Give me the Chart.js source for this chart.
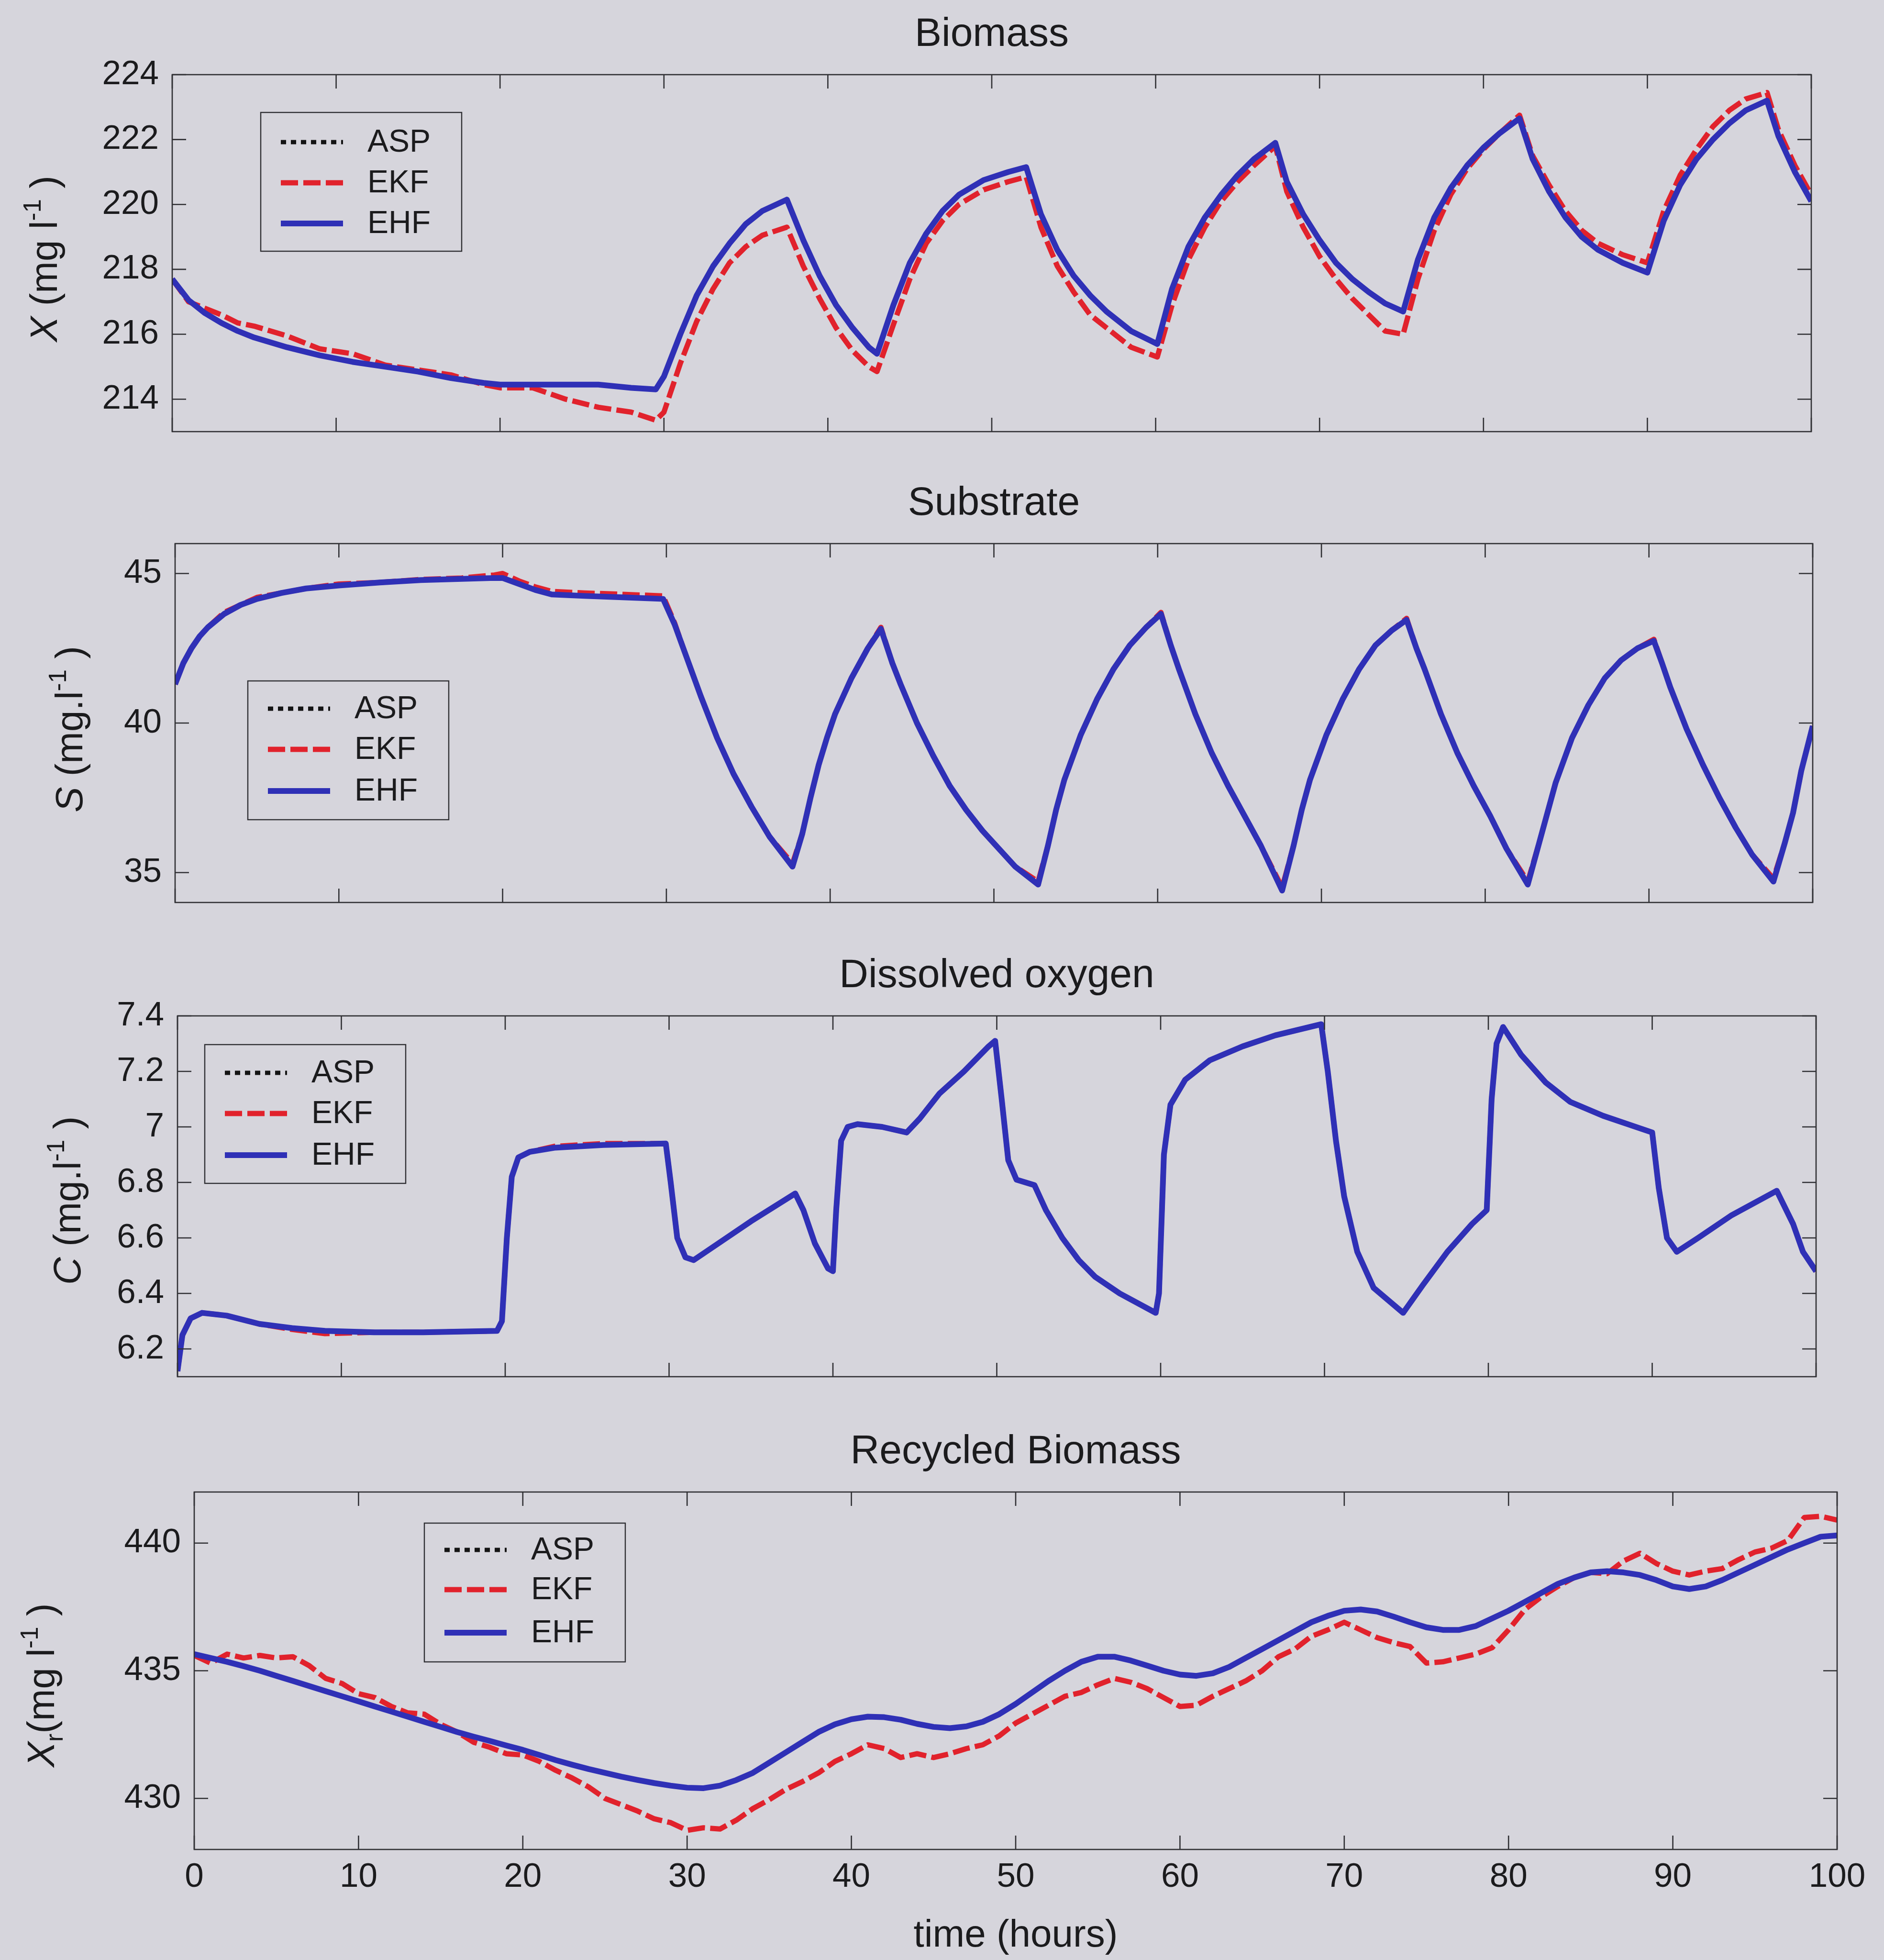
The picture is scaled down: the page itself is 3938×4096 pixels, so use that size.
<!DOCTYPE html>
<html><head><meta charset="utf-8">
<script src="https://cdn.jsdelivr.net/npm/chart.js@4.4.1/dist/chart.umd.min.js"></script>
<style>
html,body{margin:0;padding:0;background:#d6d5dc;width:3938px;height:4096px;overflow:hidden;}
canvas{position:absolute;left:0;display:block;}
</style></head><body>
<canvas id="c1"></canvas><canvas id="c2"></canvas><canvas id="c3"></canvas><canvas id="c4"></canvas>
<script>
// ---------------- DATA ----------------
const hours = [0,10,20,30,40,50,60,70,80,90,100];
const hourLabels = ['0','10','20','30','40','50','60','70','80','90','100'];
const seriesNames = ['ASP','EKF','EHF'];

// Biomass X (mg l-1)
const bioT   = [0,1,2,3,4,5,7,9,11,13,15,17,19,20,22,24,26,28,29.5,30,31,32,33,34,35,36,37.5,38.5,39.5,40.5,41.5,42.5,43,44,45,46,47,48,49.5,51,52.1,53,54,55,56,57,58.5,60.1,61,62,63,64,65,66,67.3,68,69,70,71,72,73,74,75.1,76,77,78,79,80,81,82.2,83,84,85,86,87,88.5,90,91,92,93,94,95,96,97.3,98,99,100];
const bioASP = [217.7,217.05,216.65,216.35,216.1,215.9,215.6,215.35,215.15,215.0,214.85,214.65,214.5,214.45,214.45,214.45,214.45,214.35,214.3,214.7,216.0,217.2,218.1,218.8,219.4,219.8,220.15,218.9,217.8,216.9,216.2,215.6,215.4,216.9,218.2,219.1,219.8,220.3,220.75,221.0,221.15,219.7,218.6,217.8,217.2,216.7,216.1,215.7,217.4,218.7,219.6,220.3,220.9,221.4,221.9,220.7,219.7,218.9,218.2,217.7,217.3,216.95,216.7,218.3,219.6,220.5,221.2,221.75,222.2,222.65,221.4,220.4,219.6,219.0,218.6,218.2,217.9,219.5,220.6,221.4,222.0,222.5,222.9,223.2,222.1,221.0,220.1];
const bioEKF = [217.7,217.0,216.8,216.6,216.35,216.25,215.95,215.55,215.4,215.05,214.9,214.75,214.45,214.35,214.35,214.0,213.75,213.6,213.35,213.6,215.1,216.4,217.4,218.2,218.7,219.05,219.3,218.1,217.1,216.2,215.5,215.0,214.85,216.3,217.7,218.8,219.5,220.0,220.45,220.7,220.85,219.3,218.1,217.3,216.6,216.2,215.6,215.3,216.9,218.3,219.3,220.1,220.7,221.2,221.8,220.4,219.3,218.4,217.7,217.1,216.6,216.1,216.0,217.7,219.2,220.3,221.1,221.7,222.2,222.75,221.5,220.6,219.8,219.2,218.8,218.45,218.2,219.8,220.9,221.7,222.4,222.9,223.25,223.45,222.3,221.2,220.3];
const bioEHF = [217.7,217.05,216.65,216.35,216.1,215.9,215.6,215.35,215.15,215.0,214.85,214.65,214.5,214.45,214.45,214.45,214.45,214.35,214.3,214.7,216.0,217.2,218.1,218.8,219.4,219.8,220.15,218.9,217.8,216.9,216.2,215.6,215.4,216.9,218.2,219.1,219.8,220.3,220.75,221.0,221.15,219.7,218.6,217.8,217.2,216.7,216.1,215.7,217.4,218.7,219.6,220.3,220.9,221.4,221.9,220.7,219.7,218.9,218.2,217.7,217.3,216.95,216.7,218.3,219.6,220.5,221.2,221.75,222.2,222.65,221.4,220.4,219.6,219.0,218.6,218.2,217.9,219.5,220.6,221.4,222.0,222.5,222.9,223.2,222.1,221.0,220.1];
const bioTicks = [214,216,218,220,222,224];
const bioTickLabels = ['214','216','218','220','222','224'];

// Substrate S (mg.l-1)
const subT   = [0,0.5,1,1.5,2,3,4,5,6.5,8,10,12.5,15,17.5,19.5,20,21,22,23,25,27.5,29.8,30.5,31.1,32.1,33.1,34.1,35.2,36.3,37.7,38.3,38.8,39.3,39.8,40.3,41.3,42.3,43.1,43.8,44.3,45.3,46.3,47.3,48.3,49.3,50.3,51.3,52.7,53.3,53.8,54.3,55.3,56.3,57.3,58.3,59.3,60.2,60.8,61.3,62.3,63.3,64.3,65.3,66.3,67.6,68.3,68.8,69.3,70.3,71.3,72.3,73.3,74.3,75.2,75.8,76.3,77.3,78.3,79.3,80.3,81.3,82.6,83.3,83.8,84.3,85.3,86.3,87.3,88.3,89.3,90.3,90.8,91.3,92.3,93.3,94.3,95.3,96.3,97.6,98.3,98.8,99.3,100];
const subASP = [41.3,42.0,42.5,42.9,43.2,43.65,43.95,44.15,44.35,44.5,44.6,44.7,44.78,44.82,44.85,44.85,44.65,44.45,44.3,44.25,44.2,44.15,43.3,42.4,40.9,39.5,38.3,37.2,36.2,35.2,36.3,37.5,38.6,39.5,40.3,41.5,42.5,43.15,42.0,41.3,40.0,38.9,37.9,37.1,36.4,35.8,35.2,34.6,35.9,37.1,38.1,39.6,40.8,41.8,42.6,43.2,43.65,42.6,41.8,40.3,39.0,37.9,36.9,35.9,34.4,35.9,37.1,38.1,39.6,40.8,41.8,42.6,43.1,43.45,42.5,41.8,40.3,39.0,37.9,36.9,35.8,34.6,36.0,37.0,38.0,39.5,40.6,41.5,42.1,42.5,42.75,42.0,41.2,39.8,38.6,37.5,36.5,35.6,34.7,36.0,37.0,38.4,39.9];
const subEKF = [41.3,42.0,42.5,42.9,43.2,43.7,43.95,44.2,44.35,44.5,44.65,44.7,44.8,44.85,44.95,45.0,44.75,44.55,44.4,44.35,44.3,44.25,43.35,42.4,40.9,39.5,38.3,37.2,36.2,35.3,36.3,37.5,38.6,39.5,40.3,41.5,42.5,43.2,42.0,41.3,40.0,38.9,37.9,37.1,36.4,35.8,35.2,34.7,35.9,37.1,38.1,39.6,40.8,41.8,42.6,43.2,43.7,42.6,41.8,40.3,39.0,37.9,36.9,35.9,34.5,35.9,37.1,38.1,39.6,40.8,41.8,42.6,43.1,43.5,42.5,41.8,40.3,39.0,37.9,36.9,35.8,34.7,36.0,37.0,38.0,39.5,40.6,41.5,42.1,42.5,42.8,42.0,41.2,39.8,38.6,37.5,36.5,35.6,34.8,36.0,37.0,38.4,39.9];
const subEHF = [41.3,42.0,42.5,42.9,43.2,43.65,43.95,44.15,44.35,44.5,44.6,44.7,44.78,44.82,44.85,44.85,44.65,44.45,44.3,44.25,44.2,44.15,43.3,42.4,40.9,39.5,38.3,37.2,36.2,35.2,36.3,37.5,38.6,39.5,40.3,41.5,42.5,43.15,42.0,41.3,40.0,38.9,37.9,37.1,36.4,35.8,35.2,34.6,35.9,37.1,38.1,39.6,40.8,41.8,42.6,43.2,43.65,42.6,41.8,40.3,39.0,37.9,36.9,35.9,34.4,35.9,37.1,38.1,39.6,40.8,41.8,42.6,43.1,43.45,42.5,41.8,40.3,39.0,37.9,36.9,35.8,34.6,36.0,37.0,38.0,39.5,40.6,41.5,42.1,42.5,42.75,42.0,41.2,39.8,38.6,37.5,36.5,35.6,34.7,36.0,37.0,38.4,39.9];
const subTicks = [35,40,45];
const subTickLabels = ['35','40','45'];

// Dissolved oxygen C (mg.l-1)
const doT   = [0,0.3,0.8,1.5,3,5,7,9,12,15,19.5,19.8,20.1,20.4,20.8,21.5,23,26,29.8,30.1,30.5,31,31.5,33,35,37.7,38.2,38.9,39.7,40.0,40.2,40.5,40.9,41.5,43,44.5,45.3,46.5,48,49.5,49.9,50.3,50.7,51.2,52.3,53,54,55,56,57.5,59.7,59.9,60.2,60.6,61.5,63,65,67,69.8,70.2,70.7,71.2,72,73,74.8,76,77.5,79,79.9,80.2,80.5,80.9,82,83.5,85,87,90.0,90.4,90.9,91.5,92.8,94.8,97.6,98.6,99.2,100];
const doASP = [6.12,6.25,6.31,6.33,6.32,6.29,6.275,6.265,6.26,6.26,6.265,6.3,6.6,6.82,6.89,6.91,6.925,6.935,6.94,6.8,6.6,6.53,6.52,6.58,6.66,6.76,6.7,6.58,6.49,6.48,6.7,6.95,7.0,7.01,7.0,6.98,7.03,7.12,7.2,7.29,7.31,7.1,6.88,6.81,6.79,6.7,6.6,6.52,6.46,6.4,6.33,6.4,6.9,7.08,7.17,7.24,7.29,7.33,7.37,7.2,6.95,6.75,6.55,6.42,6.33,6.43,6.55,6.65,6.7,7.1,7.3,7.36,7.26,7.16,7.09,7.04,6.98,6.78,6.6,6.55,6.6,6.68,6.77,6.65,6.55,6.48];
const doEKF = [6.12,6.25,6.31,6.33,6.32,6.29,6.27,6.255,6.26,6.26,6.265,6.3,6.6,6.82,6.89,6.91,6.93,6.94,6.94,6.8,6.6,6.53,6.52,6.58,6.66,6.76,6.7,6.58,6.49,6.48,6.7,6.95,7.0,7.01,7.0,6.98,7.03,7.12,7.2,7.29,7.31,7.1,6.88,6.81,6.79,6.7,6.6,6.52,6.46,6.4,6.33,6.4,6.9,7.08,7.17,7.24,7.29,7.33,7.37,7.2,6.95,6.75,6.55,6.42,6.33,6.43,6.55,6.65,6.7,7.1,7.3,7.36,7.26,7.16,7.09,7.04,6.98,6.78,6.6,6.55,6.6,6.68,6.77,6.65,6.55,6.48];
const doEHF = [6.12,6.25,6.31,6.33,6.32,6.29,6.275,6.265,6.26,6.26,6.265,6.3,6.6,6.82,6.89,6.91,6.925,6.935,6.94,6.8,6.6,6.53,6.52,6.58,6.66,6.76,6.7,6.58,6.49,6.48,6.7,6.95,7.0,7.01,7.0,6.98,7.03,7.12,7.2,7.29,7.31,7.1,6.88,6.81,6.79,6.7,6.6,6.52,6.46,6.4,6.33,6.4,6.9,7.08,7.17,7.24,7.29,7.33,7.37,7.2,6.95,6.75,6.55,6.42,6.33,6.43,6.55,6.65,6.7,7.1,7.3,7.36,7.26,7.16,7.09,7.04,6.98,6.78,6.6,6.55,6.6,6.68,6.77,6.65,6.55,6.48];
const doTicks = [6.2,6.4,6.6,6.8,7.0,7.2,7.4];
const doTickLabels = ['6.2','6.4','6.6','6.8','7','7.2','7.4'];

// Recycled biomass Xr (mg l-1)
const recT   = [0,1,2,3,4,5,6,7,8,9,10,11,12,13,14,15,16,17,18,19,20,21,22,23,24,25,26,27,28,29,30,31,32,33,34,35,36,37,38,39,40,41,42,43,44,45,46,47,48,49,50,51,52,53,54,55,56,57,58,59,60,61,62,63,64,65,66,67,68,69,70,71,72,73,74,75,76,77,78,79,80,81,82,83,84,85,86,87,88,89,90,91,92,93,94,95,96,97,98,99,100];
const recASP = [435.65,435.5,435.35,435.18,435.0,434.8,434.6,434.4,434.2,434.0,433.8,433.6,433.4,433.2,433.0,432.8,432.6,432.42,432.25,432.07,431.9,431.7,431.5,431.32,431.15,431.0,430.85,430.72,430.6,430.5,430.42,430.4,430.5,430.72,431.0,431.4,431.8,432.2,432.6,432.9,433.1,433.2,433.18,433.08,432.92,432.8,432.75,432.82,433.0,433.3,433.7,434.15,434.6,435.0,435.35,435.55,435.55,435.4,435.2,435.0,434.85,434.8,434.9,435.15,435.5,435.85,436.2,436.55,436.9,437.15,437.35,437.4,437.32,437.12,436.9,436.7,436.6,436.6,436.75,437.05,437.35,437.7,438.05,438.4,438.65,438.85,438.9,438.85,438.75,438.55,438.3,438.2,438.3,438.55,438.85,439.15,439.45,439.75,440.0,440.25,440.3];
const recEKF = [435.6,435.3,435.65,435.5,435.6,435.5,435.55,435.2,434.7,434.5,434.1,433.95,433.6,433.35,433.3,432.9,432.6,432.2,432.0,431.75,431.7,431.45,431.1,430.8,430.45,430.0,429.75,429.5,429.2,429.05,428.75,428.85,428.8,429.15,429.6,429.95,430.35,430.65,431.0,431.45,431.75,432.1,431.95,431.6,431.75,431.6,431.75,431.95,432.1,432.45,432.95,433.3,433.65,434.0,434.15,434.45,434.7,434.55,434.3,433.95,433.6,433.65,434.0,434.3,434.6,435.0,435.55,435.85,436.35,436.6,436.9,436.6,436.3,436.1,435.95,435.3,435.35,435.5,435.65,435.9,436.6,437.4,437.9,438.3,438.65,438.85,438.8,439.3,439.6,439.2,438.9,438.75,438.9,439.0,439.35,439.65,439.8,440.1,441.0,441.05,440.9];
const recEHF = [435.65,435.5,435.35,435.18,435.0,434.8,434.6,434.4,434.2,434.0,433.8,433.6,433.4,433.2,433.0,432.8,432.6,432.42,432.25,432.07,431.9,431.7,431.5,431.32,431.15,431.0,430.85,430.72,430.6,430.5,430.42,430.4,430.5,430.72,431.0,431.4,431.8,432.2,432.6,432.9,433.1,433.2,433.18,433.08,432.92,432.8,432.75,432.82,433.0,433.3,433.7,434.15,434.6,435.0,435.35,435.55,435.55,435.4,435.2,435.0,434.85,434.8,434.9,435.15,435.5,435.85,436.2,436.55,436.9,437.15,437.35,437.4,437.32,437.12,436.9,436.7,436.6,436.6,436.75,437.05,437.35,437.7,438.05,438.4,438.65,438.85,438.9,438.85,438.75,438.55,438.3,438.2,438.3,438.55,438.85,439.15,439.45,439.75,440.0,440.25,440.3];
const recTicks = [430,435,440];
const recTickLabels = ['430','435','440'];

// ---------------- STYLE / LAYOUT ----------------
const W = 3938;
const FONT = '"Liberation Sans", Arial, Helvetica, sans-serif';
const INK = '#1b1b1d';
const AXIS = '#303034';
const COLORS = {ASP:'#141414', EKF:'#e1222c', EHF:'#2f30b6'};
const WIDTHS = {ASP:9, EKF:11, EHF:12};
const DASHES = {ASP:[11,10], EKF:[36,11], EHF:[]};
const TICK_LEN = 29;
const TICK_FONT = 71;

const panels = [
  {id:'c1', top:0, height:990, area:{l:360,r:3786,t:156,b:902}, min:213, max:224,
   T:bioT, asp:bioASP, ekf:bioEKF, ehf:bioEHF, yTicks:bioTicks, yLabels:bioTickLabels,
   title:'Biomass', legend:{x:545,y:235,rows:[62,147,232]},
   ylab:{x:119,y:541,parts:[{t:'X',i:true},{t:' (mg l'},{t:'-1',sup:true},{t:' )'}]}, showX:false},
  {id:'c2', top:990, height:990, area:{l:366,r:3789,t:146,b:896}, min:34, max:46,
   T:subT, asp:subASP, ekf:subEKF, ehf:subEHF, yTicks:subTicks, yLabels:subTickLabels,
   title:'Substrate', legend:{x:518,y:433,rows:[58,143,230]},
   ylab:{x:172,y:534,parts:[{t:'S',i:true},{t:' (mg.l'},{t:'-1',sup:true},{t:' )'}]}, showX:false},
  {id:'c3', top:1980, height:985, area:{l:371,r:3796,t:143,b:897}, min:6.1, max:7.4,
   T:doT, asp:doASP, ekf:doEKF, ehf:doEHF, yTicks:doTicks, yLabels:doTickLabels,
   title:'Dissolved oxygen', legend:{x:428,y:203,rows:[59,144,231]},
   ylab:{x:168,y:529,parts:[{t:'C',i:true},{t:' (mg.l'},{t:'-1',sup:true},{t:' )'}]}, showX:false},
  {id:'c4', top:2965, height:1131, area:{l:406,r:3840,t:153,b:900}, min:428, max:442,
   T:recT, asp:recASP, ekf:recEKF, ehf:recEHF, yTicks:recTicks, yLabels:recTickLabels,
   title:'Recycled Biomass', legend:{x:887,y:218,rows:[56,139,229]},
   ylab:{x:113,y:557,parts:[{t:'X',i:true},{t:'r',sub:true},{t:'(mg l'},{t:'-1',sup:true},{t:' )'}]},
   showX:true, xTitle:'time (hours)', xTitleY:1103, xh:150}
];

function toXY(T, V){ const n=Math.min(T.length,V.length); const out=[]; for(let i=0;i<n;i++) out.push({x:T[i], y:V[i]}); return out; }

function drawParts(ctx, parts, size){
  const fontOf = (pt) => {
    const s = (pt.sup||pt.sub) ? size*0.64 : size;
    return (pt.i ? 'italic ' : '') + s + 'px ' + FONT;
  };
  let total = 0;
  parts.forEach(pt => { ctx.font = fontOf(pt); pt._w = ctx.measureText(pt.t).width; total += pt._w; });
  let x = -total/2;
  parts.forEach(pt => {
    ctx.font = fontOf(pt);
    let dy = 0;
    if (pt.sup) dy = -size*0.42;
    if (pt.sub) dy = size*0.22;
    ctx.fillText(pt.t, x, dy);
    x += pt._w;
  });
}

function makeDecor(p){
  return {
    id:'decor_'+p.id,
    afterDraw(chart){
      const ctx = chart.ctx;
      const a = chart.chartArea;
      const xs = chart.scales.x, ys = chart.scales.y;
      ctx.save();
      ctx.strokeStyle = AXIS; ctx.lineWidth = 2.6; ctx.setLineDash([]);
      ctx.beginPath();
      hours.forEach(v => {
        const px = xs.getPixelForValue(v);
        ctx.moveTo(px, a.bottom); ctx.lineTo(px, a.bottom - TICK_LEN);
        ctx.moveTo(px, a.top); ctx.lineTo(px, a.top + TICK_LEN);
      });
      p.yTicks.forEach(v => {
        const py = ys.getPixelForValue(v);
        ctx.moveTo(a.left, py); ctx.lineTo(a.left + TICK_LEN, py);
        ctx.moveTo(a.right, py); ctx.lineTo(a.right - TICK_LEN, py);
      });
      ctx.stroke();
      ctx.strokeRect(a.left, a.top, a.right - a.left, a.bottom - a.top);

      ctx.fillStyle = INK;
      ctx.font = '84px ' + FONT;
      ctx.textAlign = 'center'; ctx.textBaseline = 'alphabetic';
      ctx.fillText(p.title, (a.left + a.right)/2, a.top - 60);

      if (p.xTitle){
        ctx.font = '80px ' + FONT;
        ctx.fillText(p.xTitle, (a.left + a.right)/2, p.xTitleY);
      }

      ctx.save();
      ctx.translate(p.ylab.x, p.ylab.y);
      ctx.rotate(-Math.PI/2);
      ctx.textAlign = 'left'; ctx.textBaseline = 'alphabetic';
      drawParts(ctx, p.ylab.parts, 80);
      ctx.restore();

      const L = p.legend;
      ctx.strokeStyle = AXIS; ctx.lineWidth = 2.4; ctx.setLineDash([]);
      ctx.strokeRect(L.x, L.y, 420, 290);
      ctx.textAlign = 'left'; ctx.textBaseline = 'middle';
      ctx.font = '66px ' + FONT;
      seriesNames.forEach((name, i) => {
        const y = L.y + L.rows[i];
        ctx.beginPath();
        ctx.strokeStyle = COLORS[name];
        ctx.lineWidth = WIDTHS[name];
        ctx.lineCap = 'butt';
        ctx.setLineDash(DASHES[name]);
        ctx.moveTo(L.x + 42, y); ctx.lineTo(L.x + 172, y);
        ctx.stroke();
        ctx.setLineDash([]);
        ctx.fillStyle = INK;
        ctx.fillText(name, L.x + 223, y + 2);
      });
      ctx.restore();
    }
  };
}

function makeChart(p){
  const cv = document.getElementById(p.id);
  cv.width = W; cv.height = p.height;
  cv.style.width = W + 'px'; cv.style.height = p.height + 'px';
  cv.style.top = p.top + 'px';
  const xh = p.showX ? p.xh : 0;
  const series = {ASP:p.asp, EKF:p.ekf, EHF:p.ehf};
  const order = {ASP:3, EKF:2, EHF:1};
  const datasets = seriesNames.map(name => ({
    label:name,
    data: toXY(p.T, series[name]),
    borderColor: COLORS[name],
    backgroundColor: COLORS[name],
    borderWidth: WIDTHS[name],
    borderDash: DASHES[name],
    borderCapStyle:'butt',
    borderJoinStyle:'round',
    pointRadius:0,
    tension:0,
    fill:false,
    order: order[name]
  }));
  new Chart(cv, {
    type:'line',
    data:{datasets},
    options:{
      responsive:false, animation:false, devicePixelRatio:1,
      events:[],
      layout:{padding:{left:0, top:p.area.t, right:W - p.area.r, bottom:p.height - p.area.b - xh}},
      plugins:{legend:{display:false}, tooltip:{enabled:false}, title:{display:false}},
      scales:{
        x:{type:'linear', min:0, max:100, position:'bottom',
           grid:{display:false, drawTicks:false}, border:{display:false},
           afterBuildTicks:(s)=>{ s.ticks = hours.map(v=>({value:v})); },
           afterFit:(s)=>{ s.height = xh; },
           ticks:{display:p.showX, autoSkip:false, maxRotation:0, padding:16,
                  color:INK, font:{family:FONT, size:TICK_FONT},
                  callback:(v,i)=>hourLabels[i]}},
        y:{type:'linear', min:p.min, max:p.max, position:'left',
           grid:{display:false, drawTicks:false}, border:{display:false},
           afterBuildTicks:(s)=>{ s.ticks = p.yTicks.map(v=>({value:v})); },
           afterFit:(s)=>{ s.width = p.area.l; },
           ticks:{autoSkip:false, padding:28, color:INK, font:{family:FONT, size:TICK_FONT},
                  callback:(v,i)=>p.yLabels[i]}}
      }
    },
    plugins:[makeDecor(p)]
  });
}

panels.forEach(makeChart);
</script>
</body></html>
